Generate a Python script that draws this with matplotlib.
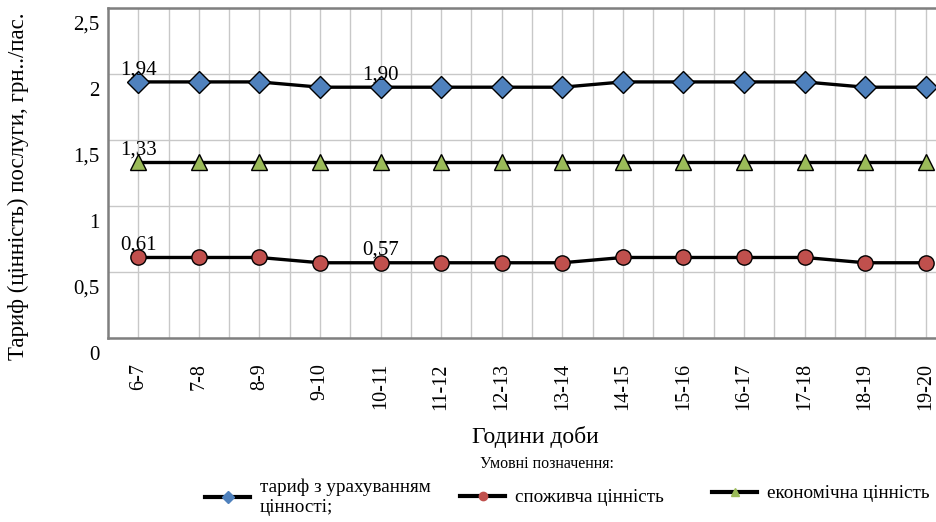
import matplotlib.pyplot as plt
from matplotlib.lines import Line2D
from matplotlib.transforms import ScaledTranslation

plt.rcParams["font.family"] = ["Liberation Serif", "DejaVu Serif"]

hours = ["6-7", "7-8", "8-9", "9-10", "10-11", "11-12", "12-13", "13-14",
         "14-15", "15-16", "16-17", "17-18", "18-19", "19-20"]
tariff = [1.94, 1.94, 1.94, 1.90, 1.90, 1.90, 1.90, 1.90, 1.94, 1.94, 1.94, 1.94, 1.90, 1.90]
consumer = [0.61, 0.61, 0.61, 0.57, 0.57, 0.57, 0.57, 0.57, 0.61, 0.61, 0.61, 0.61, 0.57, 0.57]
economic = [1.33] * 14

# підписи значень: (індекс години, ряд)
labelled = [(0, "tariff"), (4, "tariff"), (0, "economic"), (0, "consumer"), (4, "consumer")]

series = {
    "tariff": (tariff, "D", "#4f81bd", "тариф з урахуванням\nцінності;"),
    "consumer": (consumer, "o", "#c0504d", "споживча цінність"),
    "economic": (economic, "^", "#9bbb59", "економічна цінність"),
}

fig = plt.figure(figsize=(9.36, 5.22), dpi=100)
ax = fig.add_axes([108 / 936, 184 / 522, 848 / 936, 330 / 522])

x = list(range(len(hours)))
for key in ["tariff", "economic", "consumer"]:
    vals, mk, col, _ = series[key]
    ax.plot(x, vals, color="black", lw=2.4, marker=mk, markersize=11,
            markerfacecolor=col, markeredgecolor="black", markeredgewidth=1.0,
            zorder=3, clip_on=False)

for i, key in labelled:
    v = series[key][0][i]
    ax.annotate(f"{v:.2f}".replace(".", ","), (i, v), xytext=(0, 2),
                textcoords="offset points", ha="center", va="bottom",
                fontsize=15, zorder=4)

ax.set_xlim(-0.5, 13.5)
ax.set_ylim(0, 2.5)
ax.set_xticks(x)
ax.set_xticks([i + 0.5 for i in x], minor=True)
ax.set_xticklabels(hours, rotation=90, fontsize=14.5)
ax.set_yticks([0, 0.5, 1, 1.5, 2, 2.5])
ax.set_yticklabels(["0", "0,5", "1", "1,5", "2", "2,5"], fontsize=15)
ax.tick_params(axis="both", which="both", length=0)
ax.tick_params(axis="x", pad=18)
ax.tick_params(axis="y", pad=6)
shift = ScaledTranslation(0, -0.15, fig.dpi_scale_trans)
for lbl in ax.get_yticklabels():
    lbl.set_transform(lbl.get_transform() + shift)

ax.grid(True, which="both", axis="x", color="#c8c8c8", lw=1.0)
ax.grid(True, which="major", axis="y", color="#c8c8c8", lw=1.0)
ax.set_axisbelow(True)
for side in ["left", "bottom", "top"]:
    ax.spines[side].set_color("#7f7f7f")
    ax.spines[side].set_linewidth(1.8)
ax.spines["right"].set_visible(False)

fig.text(18 / 936, 1 - 186 / 522, "Тариф (цінність) послуги, грн../пас.",
         rotation=90, ha="center", va="center", fontsize=16.5)
fig.text(535 / 936, 1 - 437 / 522, "Години доби", ha="center", va="center", fontsize=17)
fig.text(547 / 936, 1 - 464 / 522, "Умовні позначення:", ha="center", va="center", fontsize=11.5)

anchors = {"tariff": (205, 479), "consumer": (460, 489), "economic": (712, 485)}
for key, (vals, mk, col, name) in series.items():
    h = Line2D([], [], color="black", lw=3, marker=mk, markersize=6,
               markerfacecolor=col, markeredgecolor=col)
    ax_x, ax_y = anchors[key]
    fig.legend([h], [name], loc="upper left",
               bbox_to_anchor=(ax_x / 936, 1 - ax_y / 522), frameon=False,
               fontsize=13.8, handlelength=2.35, handletextpad=0.5,
               borderpad=0, borderaxespad=0,
               prop={"size": 13.8, "family": ["Liberation Serif"]})

fig.savefig("out.png", dpi=100)
